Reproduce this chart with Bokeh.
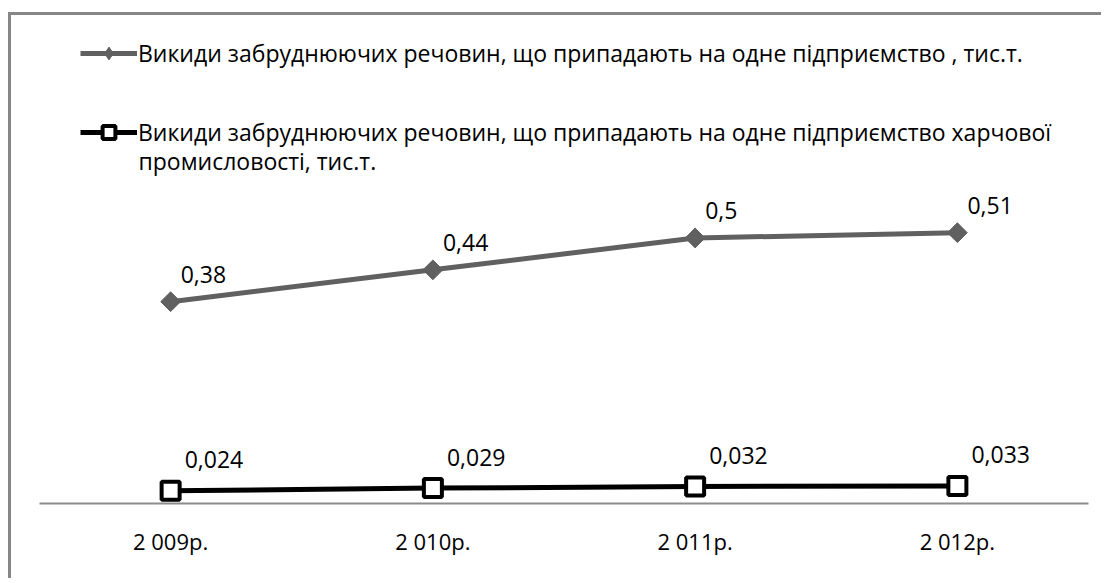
import numpy as np
from bokeh.plotting import figure
from bokeh.models import FactorRange, Range1d, Legend, LegendItem, ColumnDataSource, Label
from bokeh.core.properties import value
from bokeh.embed import file_html
from bokeh.resources import INLINE

# ---- data ----
years = ["2 009р.", "2 010р.", "2 011р.", "2 012р."]
all_emissions = [0.38, 0.44, 0.5, 0.51]
food_emissions = [0.024, 0.029, 0.032, 0.033]
name_all = "Викиди забруднюючих речовин, що припадають на одне підприємство , тис.т."
name_food_1 = "Викиди забруднюючих речовин, що припадають на одне підприємство харчової"
name_food_2 = "промисловості, тис.т."


def fmt(v):
    return ("%g" % v).replace(".", ",")


FONT = "Open Sans"
FS = "23px"
GREY = "#606060"
AXIS_GREY = "#8c8c8c"

p = figure(width=1093, height=566,
           x_range=FactorRange(factors=years, range_padding=0),
           y_range=Range1d(0, 0.919),
           y_axis_location=None,
           output_backend="svg", toolbar_location=None,
           min_border_left=28, min_border_right=16,
           min_border_top=0, min_border_bottom=78)
p.styles = {"border-left": "3px solid #878787",
            "border-top": "3px solid #878787",
            "margin-top": "12px", "margin-left": "8px"}
p.outline_line_color = None
p.xgrid.visible = False
p.ygrid.visible = False

ax = p.xaxis[0]
ax.axis_line_color = AXIS_GREY
ax.axis_line_width = 2
ax.major_tick_line_color = None
ax.minor_tick_line_color = None
ax.major_tick_out = 0
ax.major_tick_in = 0
ax.major_label_standoff = 22
ax.major_label_text_font = FONT
ax.major_label_text_font_size = "22px"
ax.major_label_text_color = "black"

src1 = ColumnDataSource(dict(x=years, y=all_emissions, t=[fmt(v) for v in all_emissions]))
src2 = ColumnDataSource(dict(x=years, y=food_emissions, t=[fmt(v) for v in food_emissions]))

r1_line = p.line("x", "y", source=src1, line_color=GREY, line_width=5)
r1_pts = p.scatter("x", "y", source=src1, marker="square", angle=np.pi / 4, size=14,
                   fill_color=GREY, line_color=GREY)
r2_line = p.line("x", "y", source=src2, line_color="black", line_width=5)
r2_pts = p.scatter("x", "y", source=src2, marker="square", size=18,
                   fill_color="white", line_color="black", line_width=4)

# legend-only proxy marker (not drawn in the plot: y is NaN)
r1_leg = p.scatter(x=[years[0]], y=[np.nan], marker="diamond",
                   fill_color=GREY, line_color=GREY)

p.text("x", "y", text="t", source=src1, x_offset=10, y_offset=-27,
       text_align="left", text_baseline="middle",
       text_font=value(FONT), text_font_size=FS, text_color="black")
p.text("x", "y", text="t", source=src2, x_offset=14, y_offset=-31,
       text_align="left", text_baseline="middle",
       text_font=value(FONT), text_font_size=FS, text_color="black")


def make_legend(label, renderers, loc):
    return Legend(items=[LegendItem(label=value(label), renderers=renderers)],
                  location=loc, orientation="vertical",
                  glyph_width=57, glyph_height=32, label_standoff=1,
                  padding=0, margin=0, spacing=0,
                  border_line_color=None, background_fill_alpha=0,
                  label_text_font=FONT, label_text_font_size=FS,
                  label_text_color="black")


p.add_layout(make_legend(name_all, [r1_line, r1_leg], (41, 434)))
p.add_layout(make_legend(name_food_1, [r2_line, r2_pts], (41, 355)))
p.add_layout(Label(x=99, y=343, x_units="screen", y_units="screen",
                   text=name_food_2, text_baseline="middle", text_align="left",
                   text_font=FONT, text_font_size=FS, text_color="black"))

open("out.html", "w").write(file_html(p, INLINE))
